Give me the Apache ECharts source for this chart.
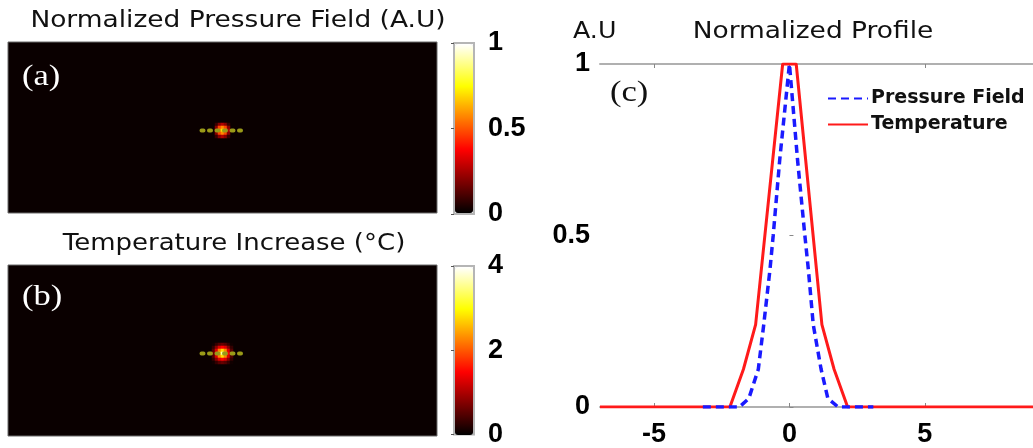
<!DOCTYPE html>
<html><head><meta charset="utf-8">
<script src="https://cdn.jsdelivr.net/npm/echarts@6/dist/echarts.min.js"></script>
<style>html,body{margin:0;padding:0;background:#fff}#c{width:1033px;height:448px}</style>
</head><body><div id="c"></div>
<script>
// ---------- Panel (c) profile data ----------
const profileXTicks = [-5, 0, 5];
const profileYTicks = [0, 0.5, 1];
const pressureProfile = [[-3.2,0],[-1.85,0],[-1.5,0.025],[-1.15,0.11],[-0.95,0.24],[-0.72,0.4],[-0.6,0.5],[-0.36,0.72],[0,1],[0.3,0.72],[0.57,0.5],[0.7,0.4],[0.88,0.24],[1.17,0.11],[1.42,0.025],[1.8,0],[3.1,0]];
const temperatureProfile = [[-7,0],[-2.2,0],[-1.7,0.11],[-1.25,0.24],[-0.25,1],[0.25,1],[1.2,0.24],[1.65,0.11],[2.15,0],[9,0]];

// ---------- Panels (a)/(b) field maps (cell grid) ----------
const mapCols = 143, mapRows = 57;
const spotCenter = [71, 29];
const pressureSpot = [
  [0.08,0.20,0.26,0.20,0.08],
  [0.20,0.48,0.58,0.48,0.20],
  [0.26,0.58,0.70,0.58,0.26],
  [0.20,0.48,0.58,0.48,0.20],
  [0.08,0.20,0.26,0.20,0.08]
];
const temperatureSpot = [
  [0.1,0.3,0.5,0.6,0.5,0.3,0.1],
  [0.3,0.8,1.3,1.5,1.3,0.8,0.3],
  [0.5,1.3,2.3,2.8,2.3,1.3,0.5],
  [0.6,1.5,2.8,3.7,2.8,1.5,0.6],
  [0.5,1.3,2.3,2.8,2.3,1.3,0.5],
  [0.3,0.8,1.3,1.5,1.3,0.8,0.3],
  [0.1,0.3,0.5,0.6,0.5,0.3,0.1]
];
const profileLineCells = [[64,29],[79,29]];
const pressureBarTicks = [0, 0.5, 1];
const temperatureBarTicks = [0, 2, 4];

const hot = ['#000000','#550000','#aa0000','#ff0000','#ff5500','#ffaa00','#ffff00','#ffff80','#ffffff'];

const colCats = Array.from({length: mapCols}, (_, i) => String(i));
const rowCats = Array.from({length: mapRows}, (_, i) => String(i));
function spotData(m) {
  const out = [];
  const h = Math.floor(m.length / 2), w = Math.floor(m[0].length / 2);
  m.forEach((row, r) => row.forEach((v, c) => out.push([spotCenter[0] - w + c, spotCenter[1] - h + r, v])));
  return out;
}

const chart = echarts.init(document.getElementById('c'), null, {renderer: 'canvas'});
const tickFont = {fontSize: 27, fontWeight: 'bold', fontFamily: 'Liberation Sans', color: '#000'};
const catAxis = (g, data, inv) => ({type: 'category', gridIndex: g, data: data, show: false, inverse: !!inv, boundaryGap: true});
const frameLine = {show: true, onZero: false, lineStyle: {color: '#b0b0b0', width: 2}};

const option = {
  animation: false,
  backgroundColor: '#fff',
  grid: [
    {left: 8, top: 42, width: 429, height: 171, show: true, backgroundColor: '#0a0000', borderColor: '#6b6b6b', borderWidth: 1},
    {left: 8, top: 265, width: 429, height: 171, show: true, backgroundColor: '#0a0000', borderColor: '#6b6b6b', borderWidth: 1},
    {left: 454, top: 43, width: 20, height: 171, show: true, borderColor: '#b5b5b5', borderWidth: 2},
    {left: 454, top: 266, width: 20, height: 170, show: true, borderColor: '#b5b5b5', borderWidth: 2},
    {left: 600, top: 64, width: 440, height: 343, show: false}
  ],
  xAxis: [
    catAxis(0, colCats), catAxis(1, colCats),
    {type: 'value', gridIndex: 2, show: false},
    {type: 'value', gridIndex: 3, show: false},
    {type: 'value', gridIndex: 4, min: -7, max: 9, splitLine: {show: false},
      axisLine: frameLine,
      axisTick: {show: true, inside: true, length: 4, lineStyle: {color: '#888'}, customValues: profileXTicks},
      axisLabel: Object.assign({margin: 14, customValues: profileXTicks}, tickFont)},
    {type: 'value', gridIndex: 4, position: 'top', min: -7, max: 9, splitLine: {show: false},
      axisLine: frameLine,
      axisTick: {show: true, inside: true, length: 4, lineStyle: {color: '#888'}, customValues: profileXTicks},
      axisLabel: {show: false}}
  ],
  yAxis: [
    catAxis(0, rowCats, true), catAxis(1, rowCats, true),
    {type: 'value', gridIndex: 2, position: 'right', min: 0, max: 1,
      splitLine: {show: false}, axisLine: {show: false},
      axisTick: {show: true, inside: true, length: 3, lineStyle: {color: '#555'}, customValues: pressureBarTicks},
      axisLabel: Object.assign({margin: 14, customValues: pressureBarTicks}, tickFont)},
    {type: 'value', gridIndex: 3, position: 'right', min: 0, max: 4,
      splitLine: {show: false}, axisLine: {show: false},
      axisTick: {show: true, inside: true, length: 3, lineStyle: {color: '#555'}, customValues: temperatureBarTicks},
      axisLabel: Object.assign({margin: 14, customValues: temperatureBarTicks}, tickFont)},
    {type: 'value', gridIndex: 4, min: 0, max: 1, interval: 0.5,
      splitLine: {show: false}, axisLine: {show: false},
      axisTick: {show: true, inside: true, length: 4, lineStyle: {color: '#888'}},
      axisLabel: Object.assign({margin: 10}, tickFont)}
  ],
  visualMap: [
    {type: 'continuous', seriesIndex: 1, min: 0, max: 1, inRange: {color: hot},
      left: 455, top: 44, itemWidth: 18, itemHeight: 169, calculable: false, hoverLink: false, padding: 0, text: null},
    {type: 'continuous', seriesIndex: 3, min: 0, max: 4, inRange: {color: hot},
      left: 455, top: 267, itemWidth: 18, itemHeight: 168, calculable: false, hoverLink: false, padding: 0, text: null}
  ],
  legend: {
    data: ['Pressure Field', 'Temperature'],
    orient: 'vertical', left: 822, top: 84, itemWidth: 40, itemHeight: 22, itemGap: 7,
    itemStyle: {opacity: 0},
    textStyle: {fontSize: 19, fontWeight: 'bold', fontFamily: 'DejaVu Sans', color: '#111', padding: [0,0,0,-2]}
  },
  series: [
    {type: 'line', xAxisIndex: 0, yAxisIndex: 0, data: profileLineCells, symbol: 'none', silent: true,
      lineStyle: {color: '#9a9a18', width: 4, type: [2, 5.5], cap: 'round'}},
    {type: 'heatmap', xAxisIndex: 0, yAxisIndex: 0, data: spotData(pressureSpot), itemStyle: {borderWidth: 0}},
    {type: 'line', xAxisIndex: 1, yAxisIndex: 1, data: profileLineCells, symbol: 'none', silent: true,
      lineStyle: {color: '#9a9a18', width: 4, type: [2, 5.5], cap: 'round'}},
    {type: 'heatmap', xAxisIndex: 1, yAxisIndex: 1, data: spotData(temperatureSpot), itemStyle: {borderWidth: 0}},
    {name: 'Temperature', type: 'line', xAxisIndex: 4, yAxisIndex: 4, data: temperatureProfile, symbol: 'none',
      color: '#ff1a1a', lineStyle: {color: '#ff1a1a', width: 3}, z: 3},
    {name: 'Pressure Field', type: 'line', xAxisIndex: 4, yAxisIndex: 4, data: pressureProfile, symbol: 'none',
      color: '#1a1aff', lineStyle: {color: '#1a1aff', width: 3.5, type: [8, 5]}, z: 4}
  ],
  graphic: [
    {type: 'text', x: 238, y: 21, scaleX: 1.15, style: {text: 'Normalized Pressure Field (A.U)', font: '23px "DejaVu Sans"', fill: '#111', textAlign: 'center', textVerticalAlign: 'middle'}},
    {type: 'text', x: 234, y: 244, scaleX: 1.13, style: {text: 'Temperature Increase (°C)', font: '23px "DejaVu Sans"', fill: '#111', textAlign: 'center', textVerticalAlign: 'middle'}},
    {type: 'text', x: 813, y: 32, scaleX: 1.15, style: {text: 'Normalized Profile', font: '23px "DejaVu Sans"', fill: '#111', textAlign: 'center', textVerticalAlign: 'middle'}},
    {type: 'text', x: 573, y: 32, scaleX: 1.1, style: {text: 'A.U', font: '23px "DejaVu Sans"', fill: '#111', textAlign: 'left', textVerticalAlign: 'middle'}},
    {type: 'text', x: 22, y: 77, scaleX: 1.15, style: {text: '(a)', font: '30px "Liberation Serif"', fill: '#fff', textAlign: 'left', textVerticalAlign: 'middle'}},
    {type: 'text', x: 22, y: 297, scaleX: 1.15, style: {text: '(b)', font: '30px "Liberation Serif"', fill: '#fff', textAlign: 'left', textVerticalAlign: 'middle'}},
    {type: 'text', x: 610, y: 93, scaleX: 1.15, style: {text: '(c)', font: '30px "Liberation Serif"', fill: '#111', textAlign: 'left', textVerticalAlign: 'middle'}}
  ]
};
chart.setOption(option);
</script>
</body></html>
